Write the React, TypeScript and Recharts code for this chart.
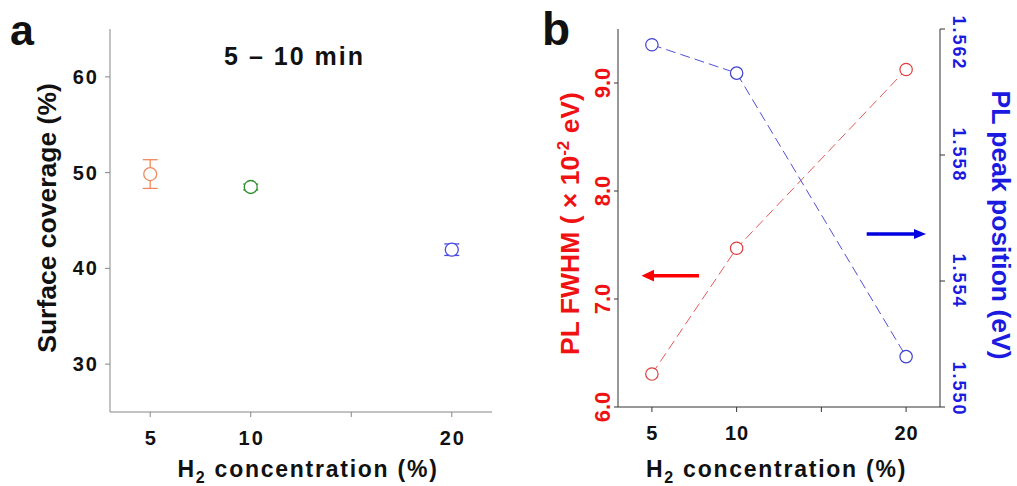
import React from "react";
import { ScatterChart, Scatter, LineChart, Line, XAxis, YAxis, ErrorBar } from "recharts";

const FONT = '"Liberation Sans", Arial, Helvetica, sans-serif';

// H2 concentration (%)
const concentrations = [5, 10, 20];
const xTicks = [5, 10, 15, 20];

// panel a: surface coverage (%) for 5 - 10 min
const coverage = [49.85, 48.5, 41.95];
const coverageErr = [1.5, 0.3, 0.6];
const coverageColors = ["#f08a5d", "#2f8f2f", "#4a4ae0"];
const coverageTicks = [30, 40, 50, 60];

// panel b: PL FWHM (x 10^-2 eV) and PL peak position (eV)
const fwhm = [6.305, 7.47, 9.125];
const peakPos = [1.5615, 1.5606, 1.5516];
const fwhmTicks = [6, 7, 8, 9];
const peakTicks = [1.55, 1.554, 1.558, 1.562];

const RED = "#f01212";
const BLUE = "#1a1ae0";

const boldText = { fontFamily: FONT, fontWeight: "bold" as const };

const XTickA = ({ x, y, payload }: any) =>
  payload.value === 15 ? <g /> : (
    <text x={x + 1} y={y + 26} textAnchor="middle" fontSize={20} letterSpacing={2} fill="#111" {...boldText}>
      {payload.value}
    </text>
  );

const YTickA = ({ x, y, payload }: any) => (
  <text x={x - 4} y={y + 7} textAnchor="end" fontSize={20} letterSpacing={2} fill="#111" {...boldText}>
    {payload.value}
  </text>
);

const XTickB = ({ x, y, payload }: any) =>
  payload.value === 15 ? <g /> : (
    <text x={x + 0.5} y={y + 26} textAnchor="middle" fontSize={20} letterSpacing={1} fill="#111" {...boldText}>
      {payload.value}
    </text>
  );

const LeftTickB = ({ x, y, payload }: any) => {
  const bx = x - 2;
  return (
    <text x={bx} y={y} transform={`rotate(-90 ${bx} ${y})`} textAnchor="middle" fontSize={22} fill={RED} {...boldText}>
      {payload.value.toFixed(1)}
    </text>
  );
};

const RightTickB = ({ x, y, payload }: any) => {
  const bx = x + 6;
  let cy = y;
  if (payload.value > 1.561) cy += 14;
  if (payload.value < 1.551) cy -= 18;
  return (
    <text x={bx} y={cy} transform={`rotate(90 ${bx} ${cy})`} textAnchor="middle" fontSize={18} letterSpacing={2} fill={BLUE} {...boldText}>
      {payload.value.toFixed(3)}
    </text>
  );
};

const H2Label = (cx: number) => () => (
  <text x={cx} y={476.7} textAnchor="middle" fontSize={23} letterSpacing={1.75} fill="#111" {...boldText}>
    <tspan>H</tspan>
    <tspan dy={6} fontSize={16}>2</tspan>
    <tspan dy={-6}> concentration (%)</tspan>
  </text>
);

const CoverageLabel = () => (
  <text x={56} y={218} transform="rotate(-90 56 218)" textAnchor="middle" fontSize={26.5} fill="#111" {...boldText}>
    Surface coverage (%)
  </text>
);

const FwhmLabel = () => (
  <text x={59} y={223.5} transform="rotate(-90 59 223.5)" textAnchor="middle" fontSize={26.5} fill={RED} {...boldText}>
    <tspan>PL FWHM ( × 10</tspan>
    <tspan dy={-10} fontSize={17}>-2</tspan>
    <tspan dy={10}> eV)</tspan>
  </text>
);

const PeakLabel = () => (
  <text x={472} y={225} transform="rotate(90 472 225)" textAnchor="middle" fontSize={26.5} fill={BLUE} {...boldText}>
    PL peak position (eV)
  </text>
);

const circleShape = (color: string) => (props: any) => (
  <circle cx={props.cx} cy={props.cy} r={6.5} fill="#fff" stroke={color} strokeWidth={1.3} />
);

// solid open circle for the dashed lines
const openDot = (color: string) => (props: any) => (
  <circle key={props.index} cx={props.cx} cy={props.cy} r={6.2} fill="#fff" stroke={color} strokeWidth={1.2} />
);

export default function App() {
  const coverageRows = concentrations.map((c, i) => ({ x: c, y: coverage[i], err: coverageErr[i] }));
  const plRows = concentrations.map((c, i) => ({ x: c, fwhm: fwhm[i], peak: peakPos[i] }));
  const grayAxis = "#868686";
  const darkAxis = "#333";

  return (
    <div style={{ position: "absolute", left: 0, top: 0, width: 1017, height: 486, background: "#fff", overflow: "hidden" }}>
      <div style={{ position: "absolute", left: 0, top: 0 }}>
        <ScatterChart width={500} height={486} margin={{ top: 29, right: 8, bottom: 0, left: 0 }}>
          <XAxis
            type="number"
            dataKey="x"
            domain={[3, 22]}
            ticks={xTicks}
            interval={0}
            height={74}
            tickSize={5}
            stroke={grayAxis}
            tick={XTickA}
            label={H2Label(308)}
          />
          <XAxis xAxisId="top" orientation="top" type="number" domain={[3, 22]} height={0} tick={false} tickLine={false} stroke={grayAxis} />
          <YAxis
            type="number"
            dataKey="y"
            domain={[25, 65]}
            ticks={coverageTicks}
            interval={0}
            allowDataOverflow
            width={110}
            tickSize={5}
            stroke={grayAxis}
            tick={YTickA}
            label={CoverageLabel}
          />
          <YAxis yAxisId="r" orientation="right" type="number" domain={[25, 65]} width={0} tick={false} tickLine={false} stroke={grayAxis} />
          {coverageRows.map((row, i) => (
            <Scatter
              key={row.x}
              data={[row]}
              fill={coverageColors[i]}
              shape={circleShape(coverageColors[i])}
              isAnimationActive={false}
            >
              <ErrorBar dataKey="err" direction="y" width={7.5} stroke={coverageColors[i]} strokeWidth={1.3} />
            </Scatter>
          ))}
        </ScatterChart>
      </div>

      <div style={{ position: "absolute", left: 520, top: 0 }}>
        <LineChart width={497} height={486} data={plRows} margin={{ top: 29, right: 0, bottom: 0, left: 0 }}>
          <XAxis
            type="number"
            dataKey="x"
            domain={[3, 22]}
            ticks={xTicks}
            interval={0}
            height={79}
            tickSize={5}
            stroke={darkAxis}
            tick={XTickB}
            label={H2Label(256.5)}
          />
          <XAxis xAxisId="top" orientation="top" type="number" domain={[3, 22]} height={0} tick={false} tickLine={false} stroke={darkAxis} />
          <YAxis
            yAxisId="left"
            type="number"
            domain={[6, 9.5]}
            ticks={fwhmTicks}
            interval={0}
            allowDataOverflow
            width={98}
            tickSize={4}
            stroke={darkAxis}
            tick={LeftTickB}
            label={FwhmLabel}
          />
          <YAxis
            yAxisId="right"
            orientation="right"
            type="number"
            domain={[1.55, 1.562]}
            ticks={peakTicks}
            interval={0}
            allowDataOverflow
            width={77}
            tickSize={5}
            stroke={darkAxis}
            tick={RightTickB}
            label={PeakLabel}
          />
          <Line
            yAxisId="left"
            type="linear"
            dataKey="fwhm"
            stroke="#e25a5a"
            strokeWidth={1}
            strokeDasharray="10 5"
            dot={openDot("#e03c3c")}
            isAnimationActive={false}
          />
          <Line
            yAxisId="right"
            type="linear"
            dataKey="peak"
            stroke="#5050d2"
            strokeWidth={1}
            strokeDasharray="10 5"
            dot={openDot("#4040d0")}
            isAnimationActive={false}
          />
        </LineChart>
      </div>

      <svg width={1017} height={486} style={{ position: "absolute", left: 0, top: 0, pointerEvents: "none" }}>
        <text x={10} y={44.5} fontSize={43} fill="#111" {...boldText}>a</text>
        <text x={542} y={45} fontSize={46} fill="#111" {...boldText}>b</text>
        <text x={294.5} y={65} textAnchor="middle" fontSize={25} letterSpacing={2} fill="#111" {...boldText}>
          5 – 10 min
        </text>
        <line x1={699} y1={275.7} x2={652} y2={275.7} stroke="#ff0000" strokeWidth={3.4} />
        <polygon points="641.5,275.7 654,269.8 654,281.6" fill="#ff0000" />
        <line x1={866.7} y1={234} x2={915} y2={234} stroke="#0000e0" strokeWidth={3.4} />
        <polygon points="926,234 914,229 914,239" fill="#0000e0" />
      </svg>
    </div>
  );
}
